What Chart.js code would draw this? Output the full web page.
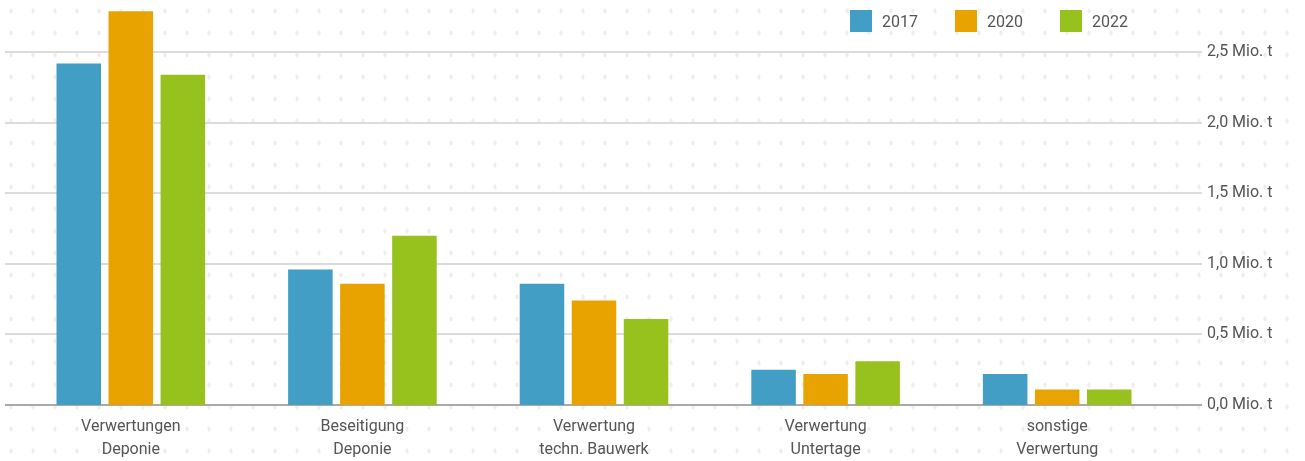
<!DOCTYPE html>
<html>
<head>
<meta charset="utf-8">
<script src="https://cdn.jsdelivr.net/npm/chart.js@4"></script>
<style>
  html, body { margin: 0; padding: 0; width: 1305px; height: 461px; overflow: hidden; background: #fff; }
  #wrap { position: relative; width: 1305px; height: 461px;
    background-image: radial-gradient(ellipse 2px 3px at 50% 50%, #eeeeee 60%, transparent 100%);
    background-size: 22px 22px; }
  canvas { display: block; position: absolute; left: 0; top: 0; }
  #legend { position: absolute; top: 10px; left: 850px; height: 22px; display: flex; align-items: center;
    font-family: Roboto, 'DejaVu Sans', sans-serif; font-size: 16px; color: #555; }
  .item { display: flex; align-items: center; margin-right: 37px; }
  .box { width: 22px; height: 22px; margin-right: 10px; }
</style>
</head>
<body>
<div id="wrap"><canvas id="c" width="1305" height="461"></canvas><div id="legend"></div></div>
<script>
const categories = [
  ["Verwertungen", "Deponie"],
  ["Beseitigung", "Deponie"],
  ["Verwertung", "techn. Bauwerk"],
  ["Verwertung", "Untertage"],
  ["sonstige", "Verwertung"]
];
const seriesNames = ["2017", "2020", "2022"];
const values2017 = [2.42, 0.96, 0.86, 0.25, 0.22];
const values2020 = [2.79, 0.86, 0.74, 0.22, 0.11];
const values2022 = [2.34, 1.20, 0.61, 0.31, 0.11];
const tickValues = [0, 0.5, 1.0, 1.5, 2.0, 2.5];
const tickLabels = ["0,0 Mio. t", "0,5 Mio. t", "1,0 Mio. t", "1,5 Mio. t", "2,0 Mio. t", "2,5 Mio. t"];
const colors = ["#429ec4", "#e8a300", "#97c21e"];

const FONT = "Roboto, 'DejaVu Sans', sans-serif";
const TEXT = "#555";

const gridPlugin = {
  id: "extGrid",
  beforeDatasetsDraw(chart) {
    const ctx = chart.ctx;
    const y = chart.scales.y;
    ctx.save();
    tickValues.forEach(v => {
      const py = Math.round(y.getPixelForValue(v));
      ctx.beginPath();
      ctx.lineWidth = 2;
      ctx.strokeStyle = v === 0 ? "#aaaaaa" : "#dcdcdc";
      ctx.moveTo(5, py);
      ctx.lineTo(1202, py);
      ctx.stroke();
    });
    ctx.restore();
  }
};

const chart = new Chart(document.getElementById("c"), {
  type: "bar",
  data: {
    labels: categories,
    datasets: [
      { label: seriesNames[0], data: values2017, backgroundColor: colors[0] },
      { label: seriesNames[1], data: values2020, backgroundColor: colors[1] },
      { label: seriesNames[2], data: values2022, backgroundColor: colors[2] }
    ]
  },
  options: {
    responsive: false,
    animation: false,
    layout: { padding: { left: 15, right: 0, top: 0, bottom: 0 } },
    datasets: { bar: { categoryPercentage: 0.674, barPercentage: 0.856 } },
    plugins: {
      legend: { display: false },
      tooltip: { enabled: false }
    },
    scales: {
      x: {
        grid: { display: false, drawTicks: false },
        border: { display: false },
        ticks: { color: TEXT, font: { family: FONT, size: 16, lineHeight: 1.4 }, padding: 11, maxRotation: 0, autoSkip: false },
        afterFit(s) { s.height = 56; }
      },
      y: {
        position: "right",
        min: 0,
        max: 2.87,
        grid: { display: false, drawTicks: false },
        border: { display: false },
        afterBuildTicks(s) { s.ticks = tickValues.map(v => ({ value: v })); },
        ticks: {
          color: TEXT, font: { family: FONT, size: 16 }, padding: 34,
          callback(v) { const i = tickValues.indexOf(v); return i >= 0 ? tickLabels[i] : ""; }
        },
        afterFit(s) { s.width = 132; s.paddingTop = 0; s.paddingBottom = 0; }
      }
    }
  },
  plugins: [gridPlugin]
});

const legend = document.getElementById("legend");
chart.data.datasets.forEach(ds => {
  const item = document.createElement("div");
  item.className = "item";
  const box = document.createElement("span");
  box.className = "box";
  box.style.background = ds.backgroundColor;
  const txt = document.createElement("span");
  txt.textContent = ds.label;
  item.appendChild(box);
  item.appendChild(txt);
  legend.appendChild(item);
});
</script>
</body>
</html>
